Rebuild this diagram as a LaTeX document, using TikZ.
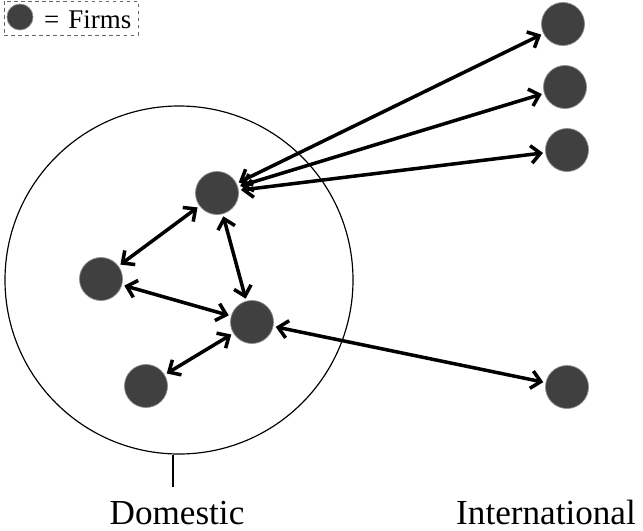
\documentclass[tikz,border=0pt]{standalone}
\usepackage{fontspec}
\setmainfont{Liberation Serif}
\usetikzlibrary{arrows.meta}
\tikzset{%
    firm/.style={inner sep=0pt,circle,minimum size=1.29cm,fill=black!75,draw=black!45,line width=0.6pt},
    link/.style={line width=3pt,{Straight Barb[length=8pt,width=15pt]}-{Straight Barb[length=8pt,width=15pt]},shorten <=2pt,shorten >=2pt},
    lbl/.style={anchor=base,font=\fontsize{30}{36}\selectfont}
}

\begin{document}
\begin{tikzpicture}[x=0.03cm,y=-0.03cm]
        \useasboundingbox (0,0) rectangle (643,530);

        % legend
        \node[draw=black!60,dashed,line width=0.6pt,minimum width=4.02cm,minimum height=1.02cm] (key) at (71,18){};
        \node[firm,minimum size=0.78cm] (kf) at (20,17){};
        \node[anchor=west,font=\fontsize{23}{27}\selectfont,inner sep=0pt] (kt) at (44,20){=\,\,Firms};

        \node[draw,circle,line width=1pt,minimum size=10.44cm] (dom) at (179,280){};
        \coordinate (stem) at (173,487);
        \draw[line width=1pt] (dom.south -| stem) -- (stem);

        \node[firm] (t) at (217,193){};
        \node[firm] (l) at (101,279){};
        \node[firm] (m) at (252,322){};
        \node[firm] (b) at (146,386){};
        \node[firm] (o1) at (563,24){};
        \node[firm] (o2) at (565,87){};
        \node[firm] (o3) at (567,150){};
        \node[firm] (o4) at (567,387){};

        \draw[link] (t) -- (l);
        \draw[link] (t) -- (m);
        \draw[link] (l) -- (m);
        \draw[link] (b) -- (m);
        \draw[link] (t) -- (o1);
        \draw[link] (t) -- (o2);
        \draw[link] (t) -- (o3);
        \draw[link] (m) -- (o4);

        \node[lbl] (dlab) at (177,524){Domestic};
        \node[lbl] (ilab) at (546,524){International};
\end{tikzpicture}
\end{document}
